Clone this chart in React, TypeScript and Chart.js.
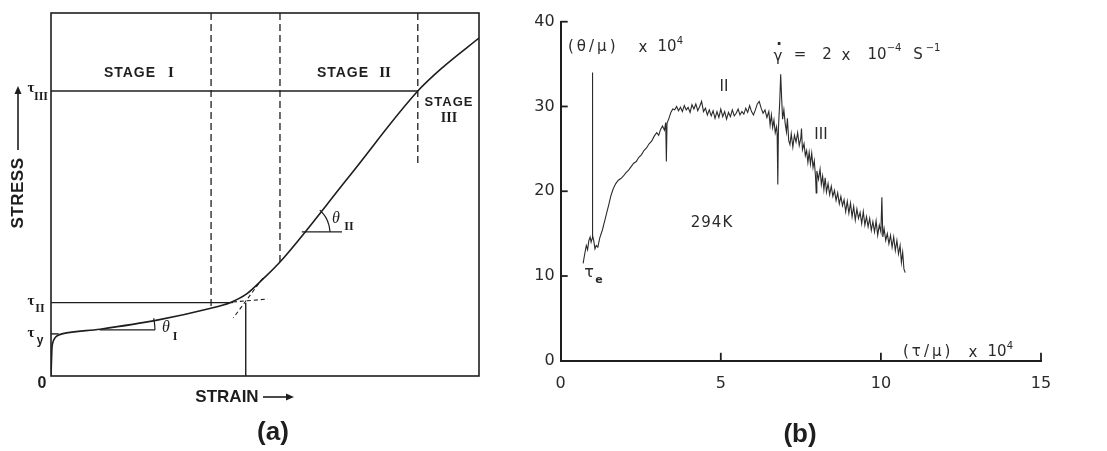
import React, { useEffect, useRef } from "react";
import { Chart, registerables } from "chart.js";

Chart.register(...registerables);

// ---------- Panel (a): schematic stress–strain curve (arbitrary units 0–100) ----------
const curveStrain = [0, 0.12, 0.23, 0.47, 0.93, 1.64, 2.57, 11.45, 24.8, 37.1, 41.8, 45.8, 49.5, 53.5, 69.6, 85.7, 91.6, 100];
const curveStress = [0, 4.4, 7.7, 9.4, 10.5, 11.2, 11.6, 12.9, 15.4, 18.6, 20.2, 22.7, 26.7, 31.4, 54.9, 78.5, 85.1, 93.1];
const tauIII = 78.5;
const tauIIIEnd = 85.7;
const tauII = 20.2;
const tauIIEnd = 42.5;
const tauY = 11.6;
const tauYEnd = 1.8;
const stageBoundaryStrain = [37.4, 53.5, 85.7];
const stageBoundaryLow = [18.2, 31.4, 58.7];
const criticalStrain = 45.5;
const stageIExtStrain = [42.5, 50.7];
const stageIExtStress = [20.4, 21.2];
const stageIIExtStrain = [49.5, 42.6];
const stageIIExtStress = [27.0, 16.0];
const thetaIStrain = [11.4, 24.3];
const thetaIStress = 12.7;
const thetaIArcStrain = [24.3, 24.2, 24.0];
const thetaIArcStress = [12.7, 14.3, 15.9];
const thetaIIStrain = [58.6, 68.0];
const thetaIIStress = 39.7;
const thetaIIArcStrain = [65.2, 64.9, 64.3, 63.3, 62.8];
const thetaIIArcStress = [39.7, 41.7, 43.5, 45.1, 45.7];

// ---------- Panel (b): (θ/μ)×10^4 versus (τ/μ)×10^4 ----------
const tauMu = [
  0.70, 0.75, 0.80, 0.84, 0.88, 0.92, 0.95, 0.98, 0.99, 1.00,
  1.03, 1.07, 1.11, 1.16, 1.22, 1.30, 1.38, 1.44, 1.50, 1.57,
  1.64, 1.72, 1.80, 1.88, 1.96, 2.04, 2.12, 2.20, 2.28, 2.36,
  2.44, 2.52, 2.60, 2.68, 2.76, 2.84, 2.92, 3.00, 3.06, 3.12,
  3.18, 3.24, 3.28, 3.30, 3.32, 3.38, 3.44, 3.50, 3.56, 3.62,
  3.68, 3.74, 3.80, 3.86, 3.92, 3.98, 4.04, 4.10, 4.16, 4.22,
  4.28, 4.34, 4.40, 4.46, 4.52, 4.58, 4.64, 4.70, 4.76, 4.82,
  4.88, 4.94, 5.00, 5.06, 5.12, 5.18, 5.24, 5.30, 5.36, 5.42,
  5.48, 5.54, 5.60, 5.66, 5.72, 5.78, 5.84, 5.90, 5.96, 6.02,
  6.08, 6.14, 6.20, 6.26, 6.32, 6.38, 6.44, 6.50, 6.54, 6.58,
  6.62, 6.66, 6.70, 6.74, 6.76, 6.78, 6.80, 6.84, 6.87, 6.90,
  6.93, 6.97, 7.01, 7.05, 7.08, 7.12, 7.16, 7.20, 7.25, 7.30,
  7.35, 7.40, 7.45, 7.50, 7.52, 7.55, 7.60, 7.64, 7.68, 7.72,
  7.76, 7.80, 7.84, 7.88, 7.92, 7.96, 7.98, 8.00, 8.05, 8.10,
  8.14, 8.18, 8.22, 8.26, 8.30, 8.35, 8.40, 8.45, 8.50, 8.55,
  8.60, 8.65, 8.70, 8.75, 8.80, 8.85, 8.90, 8.95, 9.00, 9.05,
  9.10, 9.15, 9.20, 9.25, 9.30, 9.35, 9.40, 9.45, 9.50, 9.55,
  9.60, 9.65, 9.70, 9.75, 9.80, 9.85, 9.90, 9.95, 10.00, 10.03,
  10.06, 10.10, 10.15, 10.20, 10.25, 10.30, 10.35, 10.40, 10.45, 10.50,
  10.55, 10.60, 10.64, 10.68, 10.72, 10.76,
];
const thetaMu = [
  11.5, 12.6, 13.6, 13.1, 14.2, 14.6, 14.0, 14.4, 34.0, 14.8,
  14.2, 13.2, 13.6, 13.4, 14.5, 15.4, 16.6, 17.5, 18.4, 19.5,
  20.3, 20.9, 21.3, 21.5, 21.8, 22.2, 22.5, 22.9, 23.3, 23.5,
  24.0, 24.3, 24.8, 25.1, 25.6, 25.9, 26.5, 26.9, 26.6, 27.3,
  27.7, 27.2, 28.1, 23.5, 28.0, 28.6, 29.3, 29.7, 29.6, 30.0,
  29.5, 29.9, 29.4, 30.1, 29.6, 29.9, 29.3, 30.2, 29.7, 30.3,
  29.5, 30.0, 30.6, 29.4, 29.8, 29.0, 29.6, 28.9, 29.5, 28.6,
  29.4, 28.7, 29.7, 28.8, 29.4, 28.5, 29.3, 28.8, 29.6, 28.9,
  29.2, 29.7, 29.0, 29.4, 29.1, 29.8, 29.3, 30.1, 29.4, 29.0,
  29.6, 30.3, 30.6, 29.8, 29.2, 29.6, 28.7, 29.4, 27.8, 29.0,
  27.5, 28.4, 26.9, 27.6, 26.8, 20.8, 27.5, 30.5, 33.8, 31.0,
  28.5, 29.6, 28.0, 27.0, 28.6, 26.0, 25.5, 26.8, 25.2, 26.6,
  25.8, 26.9, 25.4, 26.3, 27.4, 24.9, 25.6, 24.2, 24.8, 23.4,
  24.6, 23.2, 24.5, 22.8, 23.6, 21.6, 19.8, 22.4, 21.4, 22.6,
  20.8, 21.8, 20.2, 21.6, 19.9, 20.9, 19.6, 20.6, 19.4, 20.1,
  18.9, 19.8, 18.5, 19.4, 18.3, 19.0, 17.6, 18.8, 17.4, 18.6,
  17.0, 18.2, 16.6, 17.9, 16.8, 17.5, 16.2, 17.6, 16.0, 17.0,
  15.8, 16.8, 15.4, 16.4, 15.2, 16.5, 14.8, 16.0, 15.2, 19.3,
  14.6, 15.6, 14.2, 15.0, 13.8, 14.8, 13.4, 14.6, 13.0, 14.2,
  12.6, 13.6, 11.6, 12.8, 10.8, 10.4,
];
const xTicksB = [0, 5, 10, 15];
const yTicksB = [0, 10, 20, 30, 40];

const INK = "#1e1e1e";

function txt(ctx: CanvasRenderingContext2D, s: string, x: number, y: number, font: string, align: CanvasTextAlign = "center", spacing = "0px") {
  ctx.font = font;
  ctx.textAlign = align;
  ctx.textBaseline = "middle";
  (ctx as any).letterSpacing = spacing;
  ctx.fillText(s, x, y);
  (ctx as any).letterSpacing = "0px";
}

function pts(xs: number[], ys: number[]) {
  return xs.map((x, i) => ({ x, y: ys[i] }));
}

function seg(data: { x: number; y: number }[], dash: number[] = [], width = 1.4) {
  return {
    data,
    showLine: true,
    borderColor: INK,
    borderWidth: width,
    borderDash: dash,
    pointRadius: 0,
    tension: 0,
  };
}

const panelAPlugin = {
  id: "panelA",
  afterDraw(chart: any) {
    const { ctx, chartArea: a } = chart;
    ctx.save();
    ctx.strokeStyle = INK;
    ctx.fillStyle = INK;
    ctx.lineWidth = 1.6;
    ctx.strokeRect(a.left, a.top, a.width, a.height);

    const sans = '"Liberation Sans", Arial, sans-serif';
    const serif = '"Liberation Serif", serif';
    // stage labels
    txt(ctx, "STAGE", 130, 73, `bold 14px ${sans}`, "center", "1px");
    txt(ctx, "I", 171, 73, `bold 15px ${serif}`);
    txt(ctx, "STAGE", 343, 73, `bold 14px ${sans}`, "center", "1px");
    txt(ctx, "II", 385, 73, `bold 15px ${serif}`);
    txt(ctx, "STAGE", 449, 102, `bold 13px ${sans}`, "center", "1px");
    txt(ctx, "III", 449, 118, `bold 14px ${serif}`);

    // stress level labels
    txt(ctx, "τ", 31, 88, `bold 15px ${serif}`);
    txt(ctx, "III", 41, 97, `bold 12px ${serif}`);
    txt(ctx, "τ", 31, 301, `bold 15px ${serif}`);
    txt(ctx, "II", 40, 309, `bold 12px ${serif}`);
    txt(ctx, "τ", 31, 333, `bold 15px ${serif}`);
    txt(ctx, "y", 40, 341, `bold 12px ${sans}`);
    txt(ctx, "0", 42, 384, `bold 16px ${sans}`);

    // slopes
    txt(ctx, "θ", 166, 328, `italic 16px ${serif}`);
    txt(ctx, "I", 175, 337, `bold 12px ${serif}`);
    txt(ctx, "θ", 336, 219, `italic 16px ${serif}`);
    txt(ctx, "II", 349, 227, `bold 12px ${serif}`);

    // axis titles with arrows
    txt(ctx, "STRAIN", 227, 397, `bold 17px ${sans}`);
    ctx.lineWidth = 1.6;
    ctx.beginPath();
    ctx.moveTo(263, 397);
    ctx.lineTo(288, 397);
    ctx.stroke();
    ctx.beginPath();
    ctx.moveTo(294, 397);
    ctx.lineTo(286, 393.5);
    ctx.lineTo(286, 400.5);
    ctx.closePath();
    ctx.fill();

    ctx.save();
    ctx.translate(18, 193);
    ctx.rotate(-Math.PI / 2);
    txt(ctx, "STRESS", 0, 0, `bold 17px ${sans}`, "center", "0.5px");
    ctx.restore();
    ctx.beginPath();
    ctx.moveTo(18, 150);
    ctx.lineTo(18, 93);
    ctx.stroke();
    ctx.beginPath();
    ctx.moveTo(18, 86);
    ctx.lineTo(14.5, 94);
    ctx.lineTo(21.5, 94);
    ctx.closePath();
    ctx.fill();

    txt(ctx, "(a)", 273, 433, `bold 26px ${sans}`);
    ctx.restore();
  },
};

const panelBPlugin = {
  id: "panelB",
  afterDraw(chart: any) {
    const { ctx, chartArea: a, scales } = chart;
    const xs = scales.x;
    const ys = scales.y;
    ctx.save();
    ctx.strokeStyle = INK;
    ctx.fillStyle = INK;
    ctx.lineWidth = 1.8;
    // inner tick marks
    xTicksB.slice(1).forEach((v) => {
      const px = xs.getPixelForValue(v);
      ctx.beginPath();
      ctx.moveTo(px, a.bottom);
      ctx.lineTo(px, a.bottom - 8);
      ctx.stroke();
    });
    yTicksB.slice(1).forEach((v) => {
      const py = ys.getPixelForValue(v);
      ctx.beginPath();
      ctx.moveTo(a.left, py);
      ctx.lineTo(a.left + 7, py);
      ctx.stroke();
    });

    ctx.translate(-530, 0);
    ctx.fillStyle = "#2a2a2a";
    const f = '15px "DejaVu Sans", sans-serif';
    const fs = '10px "DejaVu Sans", sans-serif';
    // y-axis title
    txt(ctx, "(θ/μ)", 568, 47, f, "left", "3px");
    txt(ctx, "x", 643, 48, f);
    txt(ctx, "10", 667, 47, f);
    txt(ctx, "4", 680, 41, fs);
    // strain rate
    txt(ctx, "γ", 778, 57, f);
    txt(ctx, "·", 779, 45, `bold 15px "DejaVu Sans", sans-serif`);
    txt(ctx, "=", 800, 55, f);
    txt(ctx, "2", 827, 55, f);
    txt(ctx, "x", 846, 56, f);
    txt(ctx, "10", 877, 55, f);
    txt(ctx, "−4", 894, 48, fs);
    txt(ctx, "S", 918, 55, f);
    txt(ctx, "−1", 933, 48, fs);
    // stage & labels
    txt(ctx, "II", 724, 87, f);
    txt(ctx, "III", 821, 135, f);
    txt(ctx, "294K", 712, 223, f, "center", "1px");
    txt(ctx, "τ", 589, 273, `16px "DejaVu Sans", sans-serif`);
    txt(ctx, "e", 599, 280, `bold 11px "DejaVu Sans", sans-serif`);
    // x-axis title
    txt(ctx, "(τ/μ)", 903, 352, f, "left", "3px");
    txt(ctx, "x", 973, 353, f);
    txt(ctx, "10", 997, 352, f);
    txt(ctx, "4", 1010, 346, fs);

    ctx.fillStyle = INK;
    txt(ctx, "(b)", 800, 435, 'bold 26px "Liberation Sans", Arial, sans-serif');
    ctx.restore();
  },
};

function PanelA() {
  const ref = useRef<HTMLCanvasElement>(null);
  useEffect(() => {
    const canvas = ref.current!;
    const datasets: any[] = [
      { ...seg(pts(curveStrain, curveStress), [], 1.6), cubicInterpolationMode: "monotone" },
      seg([{ x: 0, y: tauIII }, { x: tauIIIEnd, y: tauIII }]),
      seg([{ x: 0, y: tauII }, { x: tauIIEnd, y: tauII }]),
      seg([{ x: 0, y: tauY }, { x: tauYEnd, y: tauY }]),
      seg([{ x: criticalStrain, y: 0 }, { x: criticalStrain, y: tauII }]),
      ...stageBoundaryStrain.map((s, i) => seg([{ x: s, y: 100 }, { x: s, y: stageBoundaryLow[i] }], [7, 4], 1.3)),
      seg(pts(stageIExtStrain, stageIExtStress), [4, 3], 1.1),
      seg(pts(stageIIExtStrain, stageIIExtStress), [4, 3], 1.1),
      seg(thetaIStrain.map((s) => ({ x: s, y: thetaIStress })), [], 1.2),
      { ...seg(pts(thetaIArcStrain, thetaIArcStress), [], 1.2), tension: 0.4 },
      seg(thetaIIStrain.map((s) => ({ x: s, y: thetaIIStress })), [], 1.2),
      { ...seg(pts(thetaIIArcStrain, thetaIIArcStress), [], 1.2), tension: 0.4 },
    ];
    const chart = new Chart(canvas, {
      type: "scatter",
      data: { datasets },
      options: {
        animation: false,
        responsive: false,
        layout: { padding: { left: 51, right: 21, top: 13, bottom: 75 } },
        plugins: { legend: { display: false }, tooltip: { enabled: false } },
        scales: {
          x: { type: "linear", min: 0, max: 100, display: false },
          y: { type: "linear", min: 0, max: 100, display: false },
        },
      },
      plugins: [panelAPlugin],
    } as any);
    return () => chart.destroy();
  }, []);
  return <canvas ref={ref} width={500} height={451} style={{ position: "absolute", left: 0, top: 0, width: 500, height: 451 }} />;
}

function PanelB() {
  const ref = useRef<HTMLCanvasElement>(null);
  useEffect(() => {
    const canvas = ref.current!;
    const tickFont = { family: '"DejaVu Sans", sans-serif', size: 16 };
    const chart = new Chart(canvas, {
      type: "line",
      data: {
        datasets: [
          {
            data: pts(tauMu, thetaMu),
            borderColor: "#2b2b2b",
            borderWidth: 1.1,
            pointRadius: 0,
            tension: 0,
          },
        ],
      },
      options: {
        animation: false,
        responsive: false,
        layout: { padding: { left: 0, right: 66, top: 21.7, bottom: 0 } },
        plugins: { legend: { display: false }, tooltip: { enabled: false } },
        scales: {
          x: {
            type: "linear",
            min: 0,
            max: 15,
            afterBuildTicks: (s: any) => {
              s.ticks = xTicksB.map((v) => ({ value: v }));
            },
            afterFit: (s: any) => {
              s.height = 90.2;
            },
            grid: { display: false, drawTicks: false },
            border: { display: true, color: INK, width: 2 },
            ticks: { font: tickFont, color: "#2a2a2a", padding: 13, maxRotation: 0 },
          },
          y: {
            type: "linear",
            min: 0,
            max: 40,
            afterBuildTicks: (s: any) => {
              s.ticks = yTicksB.map((v) => ({ value: v }));
            },
            afterFit: (s: any) => {
              s.width = 30.7;
            },
            grid: { display: false, drawTicks: false },
            border: { display: true, color: INK, width: 2 },
            ticks: { font: tickFont, color: "#2a2a2a", padding: 6 },
          },
        },
      },
      plugins: [panelBPlugin],
    } as any);
    return () => chart.destroy();
  }, []);
  return <canvas ref={ref} width={577} height={451} style={{ position: "absolute", left: 530, top: 0, width: 577, height: 451 }} />;
}

export default function App() {
  return (
    <div style={{ position: "absolute", left: 0, top: 0, width: 1107, height: 451, background: "#fff", overflow: "hidden" }}>
      <PanelA />
      <PanelB />
    </div>
  );
}
